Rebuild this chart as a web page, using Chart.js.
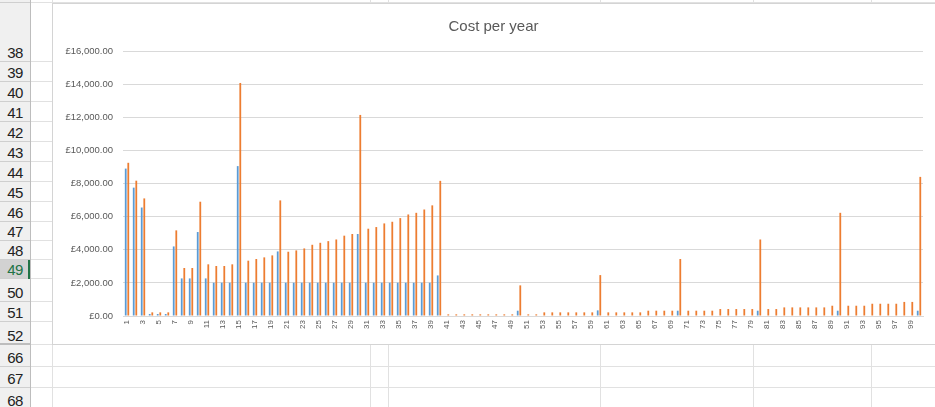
<!DOCTYPE html>
<html>
<head>
<meta charset="utf-8">
<script src="https://cdn.jsdelivr.net/npm/chart.js@4.4.1/dist/chart.umd.min.js"></script>
<style>
  html, body { margin: 0; padding: 0; }
  body {
    width: 935px; height: 407px; overflow: hidden; position: relative;
    background: #fff; font-family: "Liberation Sans", Arial, sans-serif;
  }
  .hdr {
    position: absolute; left: 0; width: 30px; box-sizing: border-box;
    background: #f0f0f0; border-bottom: 1px solid #cfcfcf;
    color: #222; font-size: 15px; letter-spacing: -0.5px;
    display: flex; align-items: flex-end; justify-content: center; line-height: 17px;
  }
  .hdr.sel { background: #d2d2d2; color: #217346; }
  .vline { position: absolute; width: 1px; background: #e1e1e1; }
  .hline { position: absolute; height: 1px; background: #e1e1e1; }
  #chartBox { position: absolute; left: 52px; top: 3px; width: 883px; height: 342px; background: #fff; }
  #chartBorder {
    position: absolute; left: 52px; top: 3px; width: 890px; height: 342px; box-sizing: border-box;
    border: 1px solid #d4d4d4; pointer-events: none; z-index: 3;
  }
</style>
</head>
<body>
<div id="sheet"></div>
<div id="chartBox"><canvas id="costChart"></canvas></div>
<div id="chartBorder"></div>
<script>
// chart data
const categories = [
  '1','2','3','4','5','6','7','8','9','10',
  '11','12','13','14','15','16','17','18','19','20',
  '21','22','23','24','25','26','27','28','29','30',
  '31','32','33','34','35','36','37','38','39','40',
  '41','42','43','44','45','46','47','48','49','50',
  '51','52','53','54','55','56','57','58','59','60',
  '61','62','63','64','65','66','67','68','69','70',
  '71','72','73','74','75','76','77','78','79','80',
  '81','82','83','84','85','86','87','88','89','90',
  '91','92','93','94','95','96','97','98','99','100'
];
const series1 = [
  8900, 7750, 6550, 120, 120, 120, 4200, 2270, 2270, 5070,
  2270, 2010, 2010, 2010, 9050, 2010, 2010, 2010, 2010, 3900,
  2010, 2010, 2010, 2010, 2010, 2010, 2010, 2010, 2010, 4950,
  2010, 2010, 2010, 2010, 2010, 2010, 2010, 2010, 2010, 2450,
  0, 0, 0, 0, 0, 0, 0, 0, 0, 320,
  0, 0, 0, 0, 0, 0, 0, 0, 0, 340,
  0, 0, 0, 0, 0, 0, 0, 0, 0, 320,
  0, 0, 0, 0, 0, 0, 0, 0, 0, 320,
  0, 0, 0, 0, 0, 0, 0, 0, 0, 320,
  0, 0, 0, 0, 0, 0, 0, 0, 0, 320
];
const series2 = [
  9250, 8170, 7100, 220, 220, 220, 5170, 2900, 2900, 6900,
  3120, 3020, 3020, 3120, 14070, 3340, 3440, 3540, 3660, 6980,
  3880, 3960, 4080, 4300, 4420, 4520, 4620, 4850, 4950, 12140,
  5270, 5370, 5590, 5690, 5910, 6130, 6230, 6430, 6680, 8160,
  100, 100, 100, 100, 100, 100, 100, 100, 100, 1850,
  100, 100, 220, 220, 220, 220, 220, 220, 220, 2470,
  220, 220, 220, 220, 220, 320, 320, 320, 320, 3440,
  320, 320, 320, 320, 420, 420, 420, 420, 420, 4620,
  420, 420, 520, 520, 520, 520, 520, 520, 620, 6230,
  620, 620, 620, 740, 740, 740, 740, 850, 850, 8400
];

// spreadsheet frame around the chart
const rowNums  = ['37','38','39','40','41','42','43','44','45','46','47','48','49','50','51','52','66','67','68'];
const rowEdges = [-17, 3, 62, 82, 102, 122, 142, 162, 182, 202, 222, 241, 260, 279, 302, 322, 345, 367, 388, 410];
const colEdges = [52, 370, 388, 600, 753, 871];
const selectedRow = '49';

const sheet = document.getElementById('sheet');
function addDiv(cls, css) {
  const d = document.createElement('div');
  d.className = cls;
  Object.assign(d.style, css);
  sheet.appendChild(d);
  return d;
}
rowNums.forEach((n, i) => {
  const top = rowEdges[i], h = rowEdges[i + 1] - top;
  const d = addDiv('hdr' + (n === selectedRow ? ' sel' : ''), { top: top + 'px', height: h + 'px' });
  d.textContent = n;
  addDiv('hline', { left: '31px', width: '904px', top: (rowEdges[i + 1] - 1) + 'px' });
});
colEdges.forEach(x => addDiv('vline', { left: x + 'px', top: '0px', height: '407px' }));
addDiv('vline', { left: '30px', top: '0px', height: '407px', background: '#bdbdbd' });
// selected row marker and hidden-rows line
addDiv('vline', { left: '28px', top: '260px', height: '19px', width: '2px', background: '#217346' });
addDiv('hline', { left: '0px', width: '30px', top: '343px', height: '2px', background: '#bdbdbd' });

function pounds(v) {
  const s = Math.round(v).toString().replace(/\B(?=(\d{3})+(?!\d))/g, ',');
  return '£' + s + '.00';
}

const ctx = document.getElementById('costChart').getContext('2d');
new Chart(ctx, {
  type: 'bar',
  data: {
    labels: categories,
    datasets: [
      { label: 'Series1', data: series1, backgroundColor: '#5b9bd5', barPercentage: 0.7, categoryPercentage: 0.64 },
      { label: 'Series2', data: series2, backgroundColor: '#ed7d31', barPercentage: 0.7, categoryPercentage: 0.64 }
    ]
  },
  options: {
    responsive: true,
    maintainAspectRatio: false,
    animation: false,
    layout: { padding: { left: 12, right: 12, top: 0, bottom: 0 } },
    plugins: {
      legend: { display: false },
      tooltip: { enabled: false },
      title: {
        display: true,
        text: 'Cost per year',
        color: '#595959',
        font: { family: '"Liberation Sans", Arial, sans-serif', size: 15, weight: 'normal', lineHeight: 1.2 },
        padding: { top: 15, bottom: 15 }
      }
    },
    scales: {
      x: {
        grid: { display: false, drawTicks: false },
        border: { display: true, color: '#d9d9d9' },
        ticks: {
          autoSkip: false,
          minRotation: 90,
          maxRotation: 90,
          padding: 4,
          color: '#595959',
          font: { family: '"Liberation Sans", Arial, sans-serif', size: 8 },
          callback: function (val, index) { return index % 2 === 0 ? this.getLabelForValue(val) : ''; }
        },
        afterFit: scale => { scale.height = 29; }
      },
      y: {
        min: 0,
        max: 16000,
        grid: { color: '#d9d9d9', drawTicks: false },
        border: { display: false },
        ticks: {
          stepSize: 2000,
          padding: 10,
          color: '#595959',
          font: { family: '"Liberation Sans", Arial, sans-serif', size: 9.5 },
          callback: v => pounds(v)
        },
        afterFit: scale => { scale.width = 59; }
      }
    }
  }
});
</script>
</body>
</html>
